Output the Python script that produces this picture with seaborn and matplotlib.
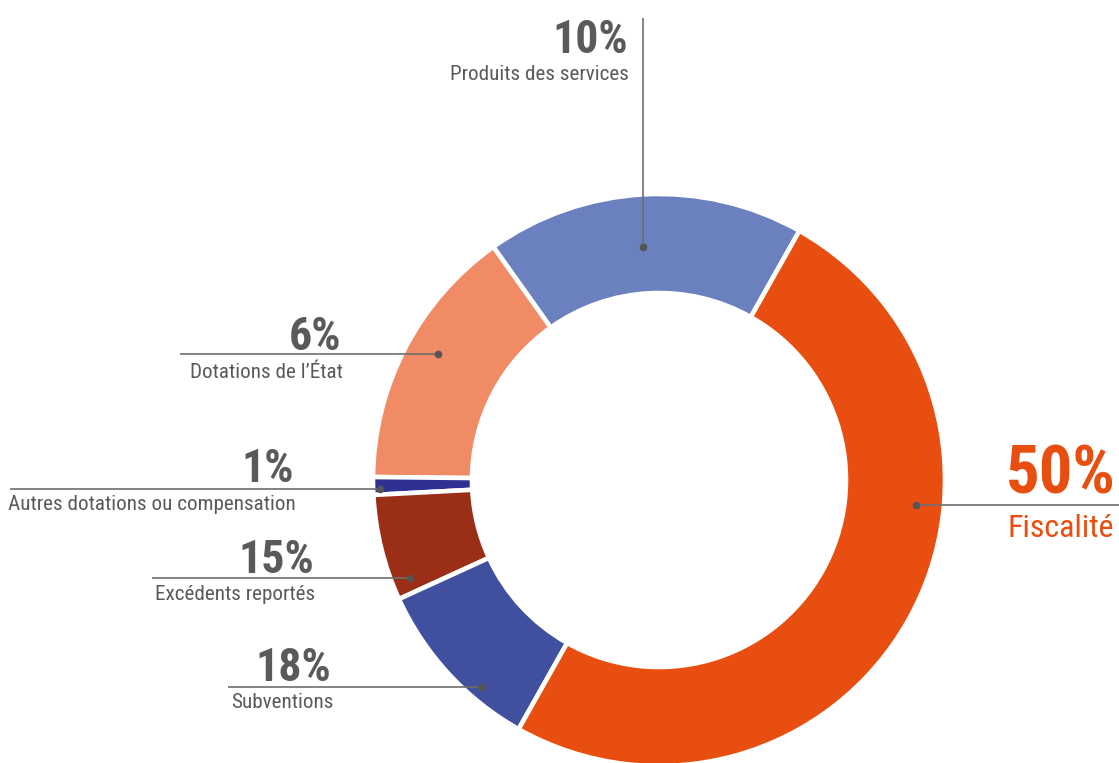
import matplotlib
matplotlib.use("Agg")
import matplotlib.pyplot as plt
from matplotlib import font_manager
import seaborn as sns

# ---- data ----
slice_names = ["Produits des services", "Dotations de l'État",
               "Autres dotations ou compensation", "Excédents reportés",
               "Subventions", "Fiscalité"]
slice_values = [18, 15, 1, 6, 10, 50]          # visual slice sizes (counter-clockwise)
slice_colors = ["#6B80BF", "#F08B65", "#2E3192", "#9A2E16", "#40509E", "#E84E0F"]

label_texts = ["Produits des services", "Dotations de l’État",
               "Autres dotations ou compensation", "Excédents reportés",
               "Subventions", "Fiscalité"]
label_pcts = ["10%", "6%", "1%", "15%", "18%", "50%"]

# ---- font ----
def pick(fams):
    for f in fams:
        try:
            font_manager.findfont(f, fallback_to_default=False)
            return f
        except Exception:
            pass
    return "DejaVu Sans"

sns.set_theme(style="white")
FONT = pick(["Liberation Sans Narrow", "DejaVu Sans Condensed", "Roboto Condensed", "Liberation Sans"])
plt.rcParams["font.family"] = [FONT, "DejaVu Sans"]

W, H = 1119, 763
fig = plt.figure(figsize=(W / 100, H / 100), dpi=100)
ax = fig.add_axes([0, 0, 1, 1])

cx, cy, R, width = 659, H - 480, 286, 99
palette = sns.color_palette(slice_colors)
ax.pie(slice_values, colors=palette, startangle=60.6, counterclock=True,
       center=(cx, cy), radius=R,
       wedgeprops=dict(width=width, edgecolor="white", linewidth=3.3))
ax.set_xlim(0, W)
ax.set_ylim(0, H)
ax.set_aspect("equal")
ax.axis("off")

GRAY = "#5a5a5a"
LINE = "#6e6e6e"
ORANGE = "#E84E0F"

def Y(y):
    return H - y

layout = [
    dict(line=((643, 643), (18, 247)), dot=(643, 247), pct=(628, 53), lbl=(629, 80), c=GRAY, ps=33, ls=15.2),
    dict(line=((180, 438), (354, 354)), dot=(438, 354), pct=(341, 350), lbl=(343, 378), c=GRAY, ps=33, ls=15.2),
    dict(line=((10, 380), (489, 489)), dot=(380, 489), pct=(294, 482), lbl=(296, 510), c=GRAY, ps=33, ls=15.2),
    dict(line=((152, 410), (578, 578)), dot=(410, 578), pct=(314, 573), lbl=(315, 600), c=GRAY, ps=33, ls=15.2),
    dict(line=((228, 481), (687, 687)), dot=(481, 687), pct=(331, 681), lbl=(334, 708), c=GRAY, ps=33, ls=15.2),
    dict(line=((916, 1119), (505, 505)), dot=(916, 505), pct=(1116, 493), lbl=(1114, 537), c=ORANGE, ps=48, ls=23),
]

for pct, txt, L in zip(label_pcts, label_texts, layout):
    (x0, x1), (y0, y1) = L["line"]
    ax.plot([x0, x1], [Y(y0), Y(y1)], color=LINE, lw=1.2, solid_capstyle="butt")
    ax.plot([L["dot"][0]], [Y(L["dot"][1])], "o", color="#555555", ms=4.5)
    ax.text(L["pct"][0], Y(L["pct"][1]), pct, ha="right", va="baseline",
            color=L["c"], fontsize=L["ps"], fontweight="bold")
    ax.text(L["lbl"][0], Y(L["lbl"][1]), txt, ha="right", va="baseline",
            color=L["c"], fontsize=L["ls"])

fig.savefig("out.png", dpi=100, facecolor="white")
